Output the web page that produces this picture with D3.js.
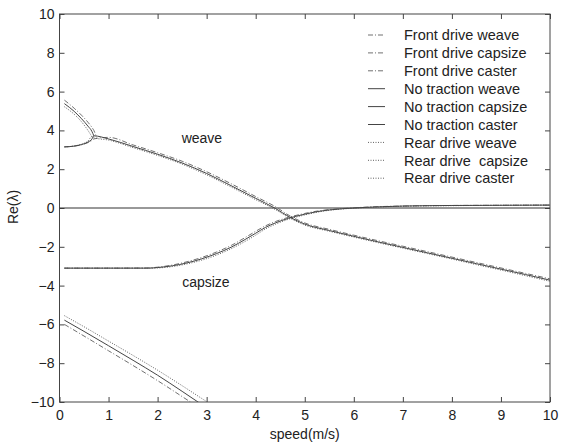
<!DOCTYPE html>
<html>
<head>
<meta charset="utf-8">
<script src="https://cdn.jsdelivr.net/npm/d3@7"></script>
<style>
  body { margin: 0; background: #fff; }
  text { font-family: "Liberation Sans", Arial, sans-serif; fill: #222; }
</style>
</head>
<body>
<div id="chart"></div>
<script>

const ticksX = [0, 1, 2, 3, 4, 5, 6, 7, 8, 9, 10];
const ticksY = [-10, -8, -6, -4, -2, 0, 2, 4, 6, 8, 10];

// weave: rama baja + parte compleja
const xWeave = [0.1, 0.3, 0.45, 0.58, 0.66, 0.7, 1, 1.5, 2, 2.5, 3, 3.5, 4, 4.4, 4.7, 5, 5.5, 6, 6.5, 7, 7.5, 8, 8.5, 9, 9.5, 10];
const weaveFront = [3.15, 3.19, 3.26, 3.37, 3.48, 3.56, 3.64, 3.25, 2.85, 2.41, 1.87, 1.25, 0.59, 0.07, -0.41, -0.77, -1.1, -1.4, -1.69, -1.97, -2.25, -2.53, -2.81, -3.09, -3.37, -3.65];
const weaveNone = [3.15, 3.19, 3.27, 3.4, 3.55, 3.72, 3.56, 3.17, 2.77, 2.32, 1.78, 1.15, 0.5, -0.02, -0.48, -0.83, -1.16, -1.46, -1.75, -2.03, -2.31, -2.59, -2.87, -3.15, -3.43, -3.72];
const weaveRear = [3.15, 3.2, 3.29, 3.45, 3.68, 3.62, 3.5, 3.11, 2.71, 2.26, 1.71, 1.08, 0.43, -0.08, -0.53, -0.88, -1.2, -1.5, -1.79, -2.07, -2.35, -2.63, -2.92, -3.2, -3.49, -3.78];

// weave: rama alta (antes de juntarse)
const xBranch = [0.1, 0.3, 0.45, 0.58, 0.66, 0.7, 0.76];
const branchFront = [5.56, 5.14, 4.78, 4.42, 4.16, 4.0, 3.62];
const branchNone = [5.38, 4.98, 4.6, 4.22, 3.95, 3.72, null];
const branchRear = [5.22, 4.83, 4.44, 4.0, 3.68, null, null];

// capsize
const xCapsize = [0.1, 1, 1.8, 2, 2.3, 2.6, 2.9, 3.2, 3.5, 3.8, 4, 4.2, 4.4, 4.67, 5, 5.25, 5.5, 6, 6.5, 7, 8, 9, 10];
const capsizeFront = [-3.1, -3.1, -3.09, -3.05, -2.94, -2.77, -2.55, -2.27, -1.93, -1.5, -1.2, -0.92, -0.7, -0.48, -0.28, -0.16, -0.08, 0.01, 0.07, 0.1, 0.13, 0.14, 0.15];
const capsizeNone = [-3.1, -3.1, -3.1, -3.07, -2.98, -2.83, -2.62, -2.35, -2.02, -1.6, -1.3, -1.0, -0.77, -0.53, -0.32, -0.19, -0.1, 0.0, 0.06, 0.1, 0.13, 0.14, 0.15];
const capsizeRear = [-3.1, -3.1, -3.1, -3.09, -3.02, -2.88, -2.69, -2.43, -2.1, -1.7, -1.4, -1.08, -0.84, -0.58, -0.36, -0.22, -0.12, -0.01, 0.05, 0.09, 0.12, 0.14, 0.15];

// caster
const xCaster = [0.1, 0.5, 1, 1.5, 2, 2.5, 3, 3.2];
const casterFront = [-6.0, -6.6, -7.36, -8.12, -8.9, -9.72, -10.55, -10.9];
const casterNone = [-5.78, -6.36, -7.1, -7.85, -8.62, -9.45, -10.3, -10.65];
const casterRear = [-5.55, -6.12, -6.86, -7.6, -8.36, -9.16, -9.98, -10.3];

const leyenda = [
  'Front drive weave', 'Front drive capsize', 'Front drive caster',
  'No traction weave', 'No traction capsize', 'No traction caster',
  'Rear drive weave', 'Rear drive  capsize', 'Rear drive caster'
];

// Estilos por tipo de traccion
const estilos = {
  front: { color: '#707070', dash: '5,2,1,2' },
  none: { color: '#444', dash: null },
  rear: { color: '#606060', dash: '1,1.5' }
};

const series = [
  { tipo: 'front', x: xWeave, y: weaveFront },
  { tipo: 'front', x: xBranch, y: branchFront },
  { tipo: 'front', x: xCapsize, y: capsizeFront },
  { tipo: 'front', x: xCaster, y: casterFront },
  { tipo: 'rear', x: xWeave, y: weaveRear },
  { tipo: 'rear', x: xBranch, y: branchRear },
  { tipo: 'rear', x: xCapsize, y: capsizeRear },
  { tipo: 'rear', x: xCaster, y: casterRear },
  { tipo: 'none', x: xWeave, y: weaveNone },
  { tipo: 'none', x: xBranch, y: branchNone },
  { tipo: 'none', x: xCapsize, y: capsizeNone },
  { tipo: 'none', x: xCaster, y: casterNone }
];

const W = 565, H = 444;
const margin = { top: 14, right: 15, bottom: 42, left: 59.5 };
const width = W - margin.left - margin.right;
const height = H - margin.top - margin.bottom;

const svgRoot = d3.select('#chart').append('svg')
  .attr('width', W)
  .attr('height', H);

const svg = svgRoot.append('g')
  .attr('transform', `translate(${margin.left},${margin.top})`);

const xScale = d3.scaleLinear().domain([0, 10]).range([0, width]);
const yScale = d3.scaleLinear().domain([-10, 10]).range([height, 0]);

svgRoot.append('defs').append('clipPath')
  .attr('id', 'clip')
  .append('rect')
  .attr('width', width)
  .attr('height', height);

// Ejes (ticks hacia dentro)
const ejeAbajo = svg.append('g')
  .attr('transform', `translate(0,${height})`)
  .call(d3.axisBottom(xScale).tickValues(ticksX).tickSize(-5).tickPadding(8).tickFormat(d3.format('d')));
const ejeIzq = svg.append('g')
  .call(d3.axisLeft(yScale).tickValues(ticksY).tickSize(-5).tickPadding(5).tickFormat(d3.format('d')));
svg.append('g')
  .call(d3.axisTop(xScale).tickValues(ticksX).tickSize(-5).tickFormat(''));
svg.append('g')
  .attr('transform', `translate(${width},0)`)
  .call(d3.axisRight(yScale).tickValues(ticksY).tickSize(-5).tickFormat(''));

svg.selectAll('.domain').remove();
svg.selectAll('.tick line').attr('stroke', '#444');
[ejeAbajo, ejeIzq].forEach(g => g.attr('font-family', null).attr('font-size', 14)
  .selectAll('text').attr('fill', '#222'));

svg.append('rect')
  .attr('width', width)
  .attr('height', height)
  .attr('fill', 'none')
  .attr('stroke', '#444')
  .attr('stroke-width', 1);

// Linea de cero
svg.append('line')
  .attr('x1', xScale(0)).attr('x2', xScale(10))
  .attr('y1', yScale(0)).attr('y2', yScale(0))
  .attr('stroke', '#333');

// Curvas
const linea = d3.line()
  .defined(d => d[1] !== null)
  .x(d => xScale(d[0]))
  .y(d => yScale(d[1]))
  .curve(d3.curveMonotoneX);

svg.append('g')
  .attr('clip-path', 'url(#clip)')
  .selectAll('path')
  .data(series)
  .join('path')
  .attr('d', s => linea(s.x.map((v, i) => [v, s.y[i]])))
  .attr('fill', 'none')
  .attr('stroke', s => estilos[s.tipo].color)
  .attr('stroke-width', 1)
  .attr('stroke-dasharray', s => estilos[s.tipo].dash);

// Etiquetas de modos
svg.append('text').attr('x', xScale(2.49)).attr('y', yScale(3.33)).attr('font-size', 14).text('weave');
svg.append('text').attr('x', xScale(2.5)).attr('y', yScale(-4.07)).attr('font-size', 14).text('capsize');

// Leyenda
const tiposLeyenda = ['front', 'front', 'front', 'none', 'none', 'none', 'rear', 'rear', 'rear'];
const filas = svgRoot.append('g')
  .selectAll('g')
  .data(leyenda)
  .join('g')
  .attr('transform', (d, i) => `translate(368,${35 + i * 17.9})`);

filas.append('line')
  .attr('x1', 0).attr('x2', 17)
  .attr('stroke', (d, i) => estilos[tiposLeyenda[i]].color)
  .attr('stroke-dasharray', (d, i) => estilos[tiposLeyenda[i]].dash);

filas.append('text')
  .attr('x', 36)
  .attr('dy', '0.36em')
  .attr('font-size', 14.5)
  .style('white-space', 'pre')
  .text(d => d);

// Titulos de ejes
svgRoot.append('text')
  .attr('x', margin.left + width / 2)
  .attr('y', 439)
  .attr('text-anchor', 'middle')
  .attr('font-size', 14)
  .text('speed(m/s)');

svgRoot.append('text')
  .attr('transform', 'translate(18,207) rotate(-90)')
  .attr('text-anchor', 'middle')
  .attr('font-size', 14)
  .text('Re(λ)');
</script>
</body>
</html>
